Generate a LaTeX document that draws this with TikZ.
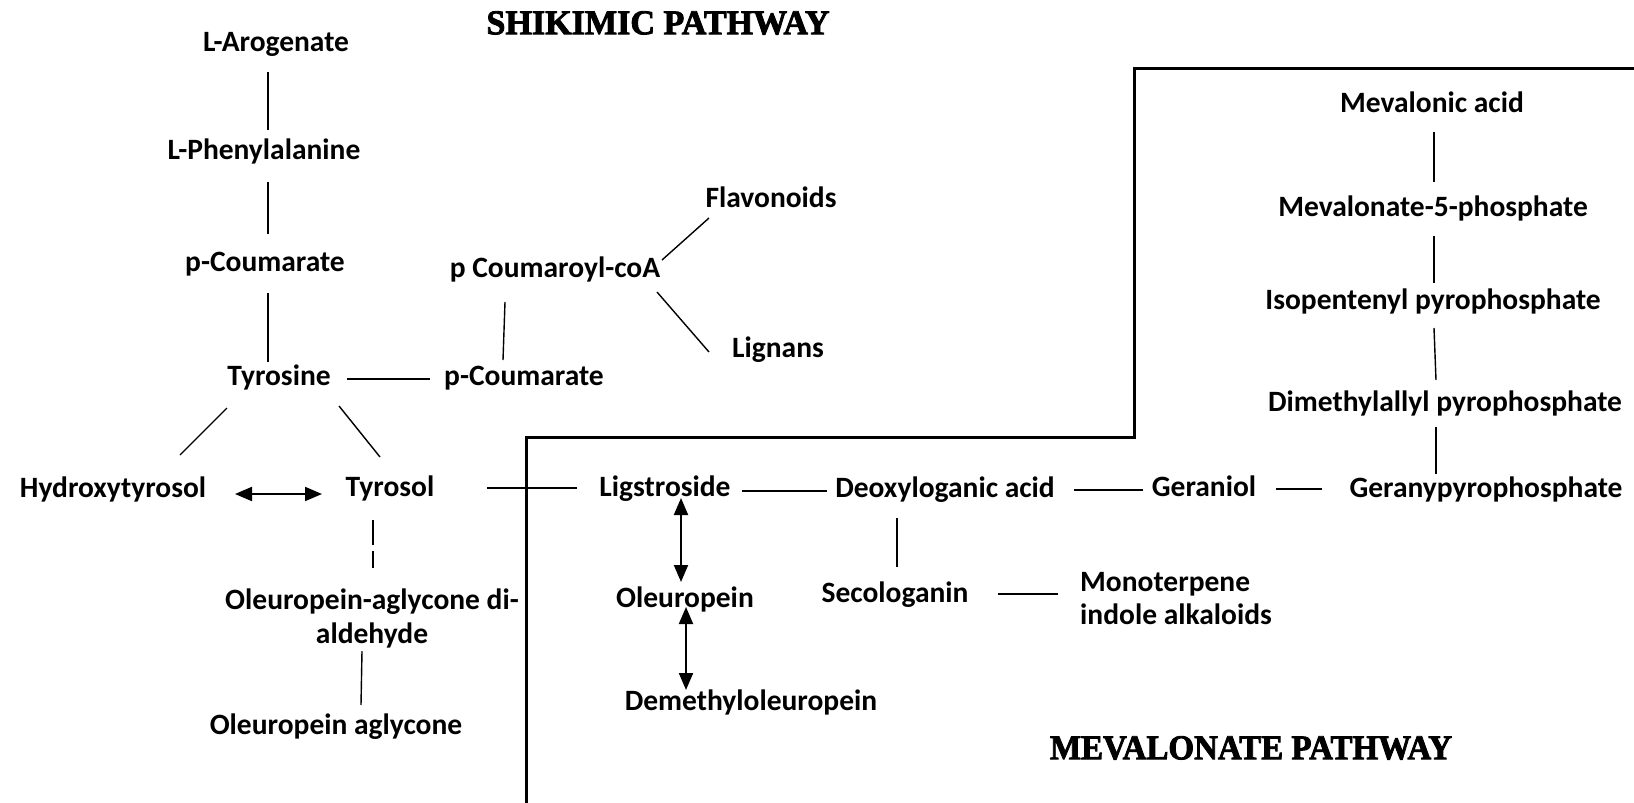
\documentclass[tikz,border=0pt]{standalone}
\usepackage{fontspec}
\setmainfont{Carlito}
\newfontfamily\stencilfont[BoldFeatures={FakeBold=2.5}]{Liberation Serif}
\usetikzlibrary{arrows.meta,calc}
\begin{document}
\begin{tikzpicture}[x=1pt,y=-1pt,
  lbl/.style={inner sep=0pt, text height=20pt, text depth=6pt, font=\fontsize{29.5pt}{34pt}\selectfont\bfseries},
  mlbl/.style={inner sep=0pt, font=\fontsize{29.5pt}{33.5pt}\selectfont\bfseries},
  conn/.style={line width=1.4pt},
  dbl/.style={line width=2pt, {Triangle[length=17pt,width=14pt]}-{Triangle[length=17pt,width=14pt]}},
  ttl/.style={inner sep=0pt},
  boxline/.style={line width=3pt}]
\useasboundingbox (0,0) rectangle (1634,803);

% titles
\node[ttl] (t1) at (658,23) {\resizebox{343pt}{23pt}{\stencilfont\bfseries SHIKIMIC PATHWAY}};
\node[ttl] (t2) at (1251,748) {\resizebox{402pt}{23pt}{\stencilfont\bfseries MEVALONATE PATHWAY}};

% region outline
\draw[boxline] (526,803) -- (526,437) -- (1134,437) -- (1134,68) -- (1634,68);

% shikimic nodes
\node[lbl] (aro) at (276,44) {L-Arogenate};
\node[lbl] (phe) at (264,152) {L-Phenylalanine};
\node[lbl] (pc1) at (265,264) {p-Coumarate};
\node[lbl] (tyr) at (279,378) {Tyrosine};
\node[lbl] (pc2) at (524,378) {p-Coumarate};
\node[lbl] (pcoa) at (555,270) {p Coumaroyl-coA};
\node[lbl] (flav) at (771,200) {Flavonoids};
\node[lbl] (lgn) at (778,350) {Lignans};
\node[lbl] (hyd) at (113,490) {Hydroxytyrosol};
\node[lbl] (tyrosol) at (390,489) {Tyrosol};
\node[mlbl, align=center, anchor=north] (olald) at (372,589) {Oleuropein-aglycone di-\\aldehyde};
\node[lbl] (agl) at (336,727) {Oleuropein aglycone};

% mevalonate nodes
\node[lbl] (lig) at (665,489) {Ligstroside};
\node[lbl] (deoxy) at (945,490) {Deoxyloganic acid};
\node[lbl] (seco) at (895,595) {Secologanin};
\node[lbl] (oleu) at (685,600) {Oleuropein};
\node[lbl] (demeth) at (751,703) {Demethyloleuropein};
\node[mlbl, align=left, anchor=north west] (mono) at (1080,572) {Monoterpene\\indole alkaloids};
\node[lbl] (geraniol) at (1204,489) {Geraniol};
\node[lbl] (gpp) at (1486,490) {Geranypyrophosphate};
\node[lbl] (dmapp) at (1445,404) {Dimethylallyl pyrophosphate};
\node[lbl] (ipp) at (1433,302) {Isopentenyl pyrophosphate};
\node[lbl] (m5p) at (1433,209) {Mevalonate-5-phosphate};
\node[lbl] (mva) at (1432,105) {Mevalonic acid};

% shikimic connectors
\draw[conn] ([shift={(-8,28)}]aro.center) -- ([shift={(4,-22)}]phe.center);
\draw[conn] ([shift={(4,30)}]phe.center) -- ([shift={(3,-30)}]pc1.center);
\draw[conn] ([shift={(3,29)}]pc1.center) -- ([shift={(-11,-16)}]tyr.center);
\draw[conn] ([shift={(68,1)}]tyr.center) -- ([shift={(-94,1)}]pc2.center);
\draw[conn] ([shift={(-21,-18)}]pc2.center) -- ([shift={(-50,32)}]pcoa.center);
\draw[conn] ([shift={(107,-10)}]pcoa.center) -- ([shift={(-62,18)}]flav.center);
\draw[conn] ([shift={(102,22)}]pcoa.center) -- ([shift={(-69,2)}]lgn.center);
\draw[conn] ([shift={(-52,30)}]tyr.center) -- ([shift={(67,-35)}]hyd.center);
\draw[conn] ([shift={(60,28)}]tyr.center) -- ([shift={(-10,-32)}]tyrosol.center);
\draw[dbl] ([shift={(122,4)}]hyd.center) -- ([shift={(-68,5)}]tyrosol.center);
\draw[conn, dash pattern=on 25pt off 6pt on 40pt] ([shift={(-17,31)}]tyrosol.center) -- ([shift={(1,-21)}]olald.north);
\draw[conn] ([shift={(-10,3)}]olald.south) -- ([shift={(25,-22)}]agl.center);

% mevalonate connectors
\draw[conn] ([shift={(97,-1)}]tyrosol.center) -- ([shift={(-88,-1)}]lig.center);
\draw[conn] ([shift={(77,2)}]lig.center) -- ([shift={(-118,1)}]deoxy.center);
\draw[conn] ([shift={(129,0)}]deoxy.center) -- ([shift={(-61,1)}]geraniol.center);
\draw[conn] ([shift={(72,0)}]geraniol.center) -- ([shift={(-164,-1)}]gpp.center);
\draw[conn] ([shift={(-48,28)}]deoxy.center) -- ([shift={(2,-28)}]seco.center);
\draw[conn] ([shift={(103,-1)}]seco.center) -- ([shift={(-22,22)}]mono.north west);
\draw[dbl] ([shift={(16,9)}]lig.center) -- ([shift={(-4,-18)}]oleu.center);
\draw[dbl] ([shift={(1,7)}]oleu.center) -- ([shift={(-65,-13)}]demeth.center);
\draw[conn] ([shift={(2,27)}]mva.center) -- ([shift={(1,-27)}]m5p.center);
\draw[conn] ([shift={(1,27)}]m5p.center) -- ([shift={(1,-19)}]ipp.center);
\draw[conn] ([shift={(1,26)}]ipp.center) -- ([shift={(-9,-24)}]dmapp.center);
\draw[conn] ([shift={(-9,23)}]dmapp.center) -- ([shift={(-50,-16)}]gpp.center);
\end{tikzpicture}
\end{document}
